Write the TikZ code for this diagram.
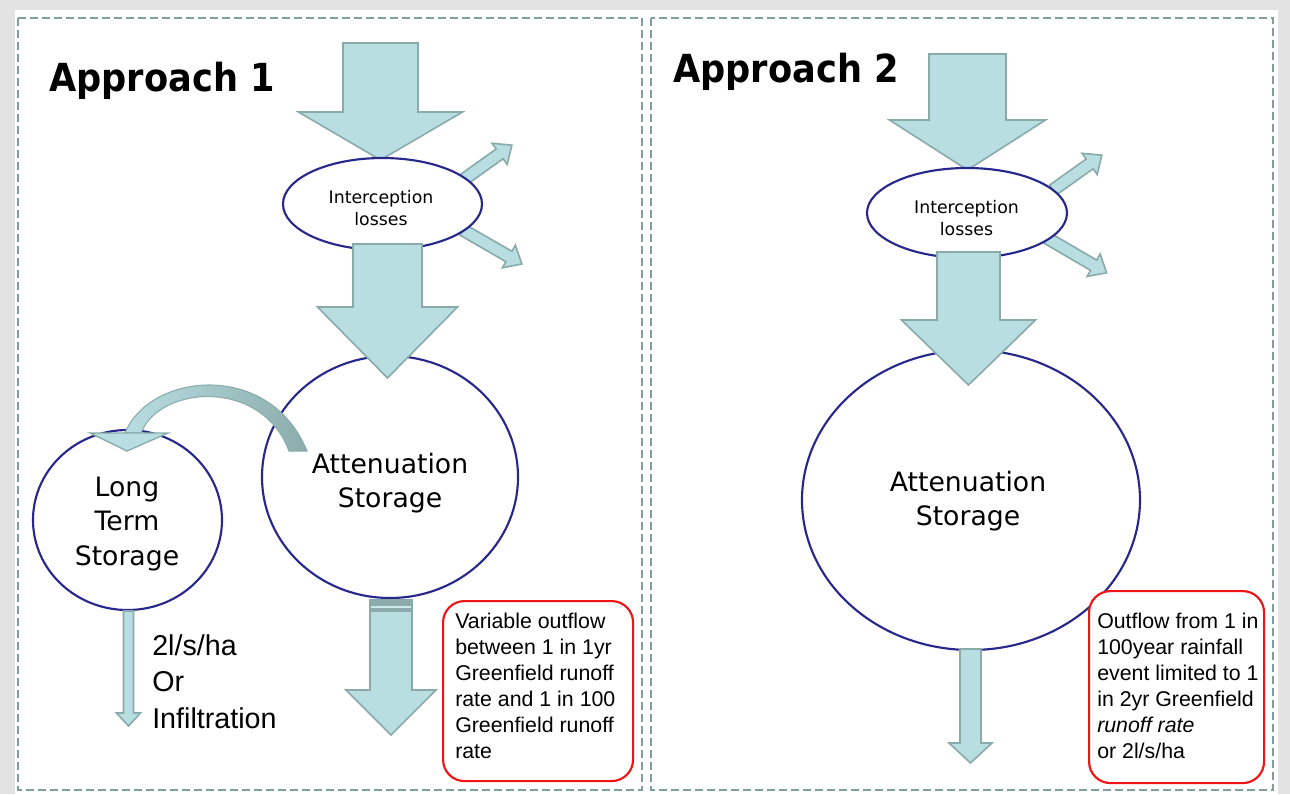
\documentclass[tikz,border=0pt]{standalone}
\usepackage{fontspec}
\setmainfont{Liberation Sans}
\newfontfamily\verd{DejaVu Sans}
\usetikzlibrary{shapes.geometric}
\definecolor{arrowfill}{RGB}{184,222,226}
\definecolor{arrowline}{RGB}{138,170,170}
\definecolor{curvedark}{RGB}{140,172,172}
\definecolor{framecol}{RGB}{128,160,160}
\definecolor{navy}{RGB}{40,40,140}
\definecolor{boxred}{RGB}{240,20,20}
\tikzset{
  blk/.style={fill=arrowfill,draw=arrowline,line width=1.2pt,line join=miter},
  frame/.style={draw=framecol,line width=1.8pt,dash pattern=on 6pt off 3pt},
  oval/.style={ellipse,draw=navy,fill=white,line width=1.6pt,inner sep=0pt},
  redbox/.style={draw=boxred,line width=1.6pt,rounded corners=16pt,fill=white,inner sep=0pt,anchor=north west},
  title/.style={anchor=base west,inner sep=0pt,font=\verd\bfseries\fontsize{29}{34}\selectfont},
  smalltxt/.style={align=center,inner sep=0pt,font=\verd\fontsize{13}{16}\selectfont},
  bigtxt/.style={align=center,inner sep=0pt,font=\verd\fontsize{20}{26}\selectfont},
  boxtxt/.style={align=left,inner sep=0pt,anchor=north west,font=\fontsize{16}{19.4}\selectfont},
  outtxt/.style={align=left,inner sep=0pt,anchor=north west,font=\fontsize{21.5}{27.4}\selectfont}
}
% block arrow: start x, start y, angle, length, shaft half width, head half width, head length
\newcommand{\blkarrow}[7]{%
  \begin{scope}[shift={(#1,#2)},rotate=#3]
    \filldraw[blk] (0,-#5)--({#4-#7},-#5)--({#4-#7},-#6)--(#4,0)--({#4-#7},#6)--({#4-#7},#5)--(0,#5)--cycle;
  \end{scope}}
\begin{document}
\begin{tikzpicture}[x=0.75pt,y=-0.75pt]
\useasboundingbox (0,0) rectangle (1290,794);
\fill[gray!22] (0,0) rectangle (1290,794);
\fill[white] (15,10) rectangle (1278,794);
% frames
\draw[frame] (18,18) rectangle (642,790);
\draw[frame] (651,18) rectangle (1273,790);
% titles
\node[title] (t1) at (49,91) {\scalebox{0.91}[1]{Approach 1}};
\node[title] (t2) at (673,82) {\scalebox{0.91}[1]{Approach 2}};

% ---------------- Approach 1 ----------------
\blkarrow{380.5}{43}{-90}{117}{37.5}{82}{48}
\blkarrow{463}{180}{35.5}{60}{6}{13}{15}
\blkarrow{463}{230}{-30}{68}{6}{13}{15}
\node[oval,minimum width=149.25pt,minimum height=69pt] (ic1) at (382.5,204) {};
\node[smalltxt] (ic1t) at (381,208) {Interception\\losses};
\node[oval,minimum width=192pt,minimum height=181.5pt] (att1) at (390,477) {};
\node[oval,minimum width=141.75pt,minimum height=135pt] (lts) at (127.5,520) {};
\blkarrow{387.5}{244}{-90}{134}{34.5}{70}{71}
\node[bigtxt] (att1t) at (390,483) {Attenuation\\Storage};
\node[bigtxt] (ltst) at (127,524) {Long\\Term\\Storage};
% curved arrow
\shade[left color=arrowfill,right color=curvedark,draw=curvedark,line width=0.8pt]
  (125,433) .. controls (150,372) and (270,360) .. (307,451) -- (289,451)
  .. controls (262,378) and (160,385) .. (141,433) -- cycle;
\filldraw[blk,line width=1pt] (90,433) -- (168,433) -- (127,451) -- cycle;
% bottom arrow with band
\blkarrow{391}{600}{-90}{135}{21}{45}{45}
\fill[curvedark] (370,600) rectangle (412,612);
\draw[arrowfill!70!white,line width=1.2pt] (371,607) -- (411,607);
% long term storage outflow
\blkarrow{128.5}{611}{-90}{115}{5}{12}{13}
\node[outtxt] (lto) at (152,634) {2l/s/ha\\Or\\Infiltration};
% red box 1
\node[redbox,minimum width=142.5pt,minimum height=135pt] (rb1) at (442,600) {};
\node[boxtxt] (rb1t) at (455,613) {Variable outflow\\between 1 in 1yr\\Greenfield runoff\\rate and 1 in 100\\Greenfield runoff\\rate};

% ---------------- Approach 2 ----------------
\blkarrow{967.5}{54}{-90}{116}{38.5}{78}{50}
\blkarrow{1053}{190}{35.5}{60}{6}{13}{15}
\blkarrow{1047}{238}{-30.3}{69}{6}{13}{15}
\node[oval,minimum width=150pt,minimum height=67.5pt] (ic2) at (967,213) {};
\node[smalltxt] (ic2t) at (966.5,218) {Interception\\losses};
\node[oval,minimum width=253.5pt,minimum height=225pt] (att2) at (971,500) {};
\blkarrow{968.5}{252}{-90}{133}{31.5}{67}{65}
\node[bigtxt] (att2t) at (968,501) {Attenuation\\Storage};
\blkarrow{970.5}{649}{-90}{114}{10.5}{21.5}{20}
\node[redbox,minimum width=131.25pt,minimum height=144pt] (rb2) at (1088,590) {};
\node[boxtxt] (rb2t) at (1097,613) {Outflow from 1 in\\100year rainfall\\event limited to 1\\in 2yr Greenfield\\\textit{runoff rate}\\or 2l/s/ha};
\end{tikzpicture}
\end{document}
